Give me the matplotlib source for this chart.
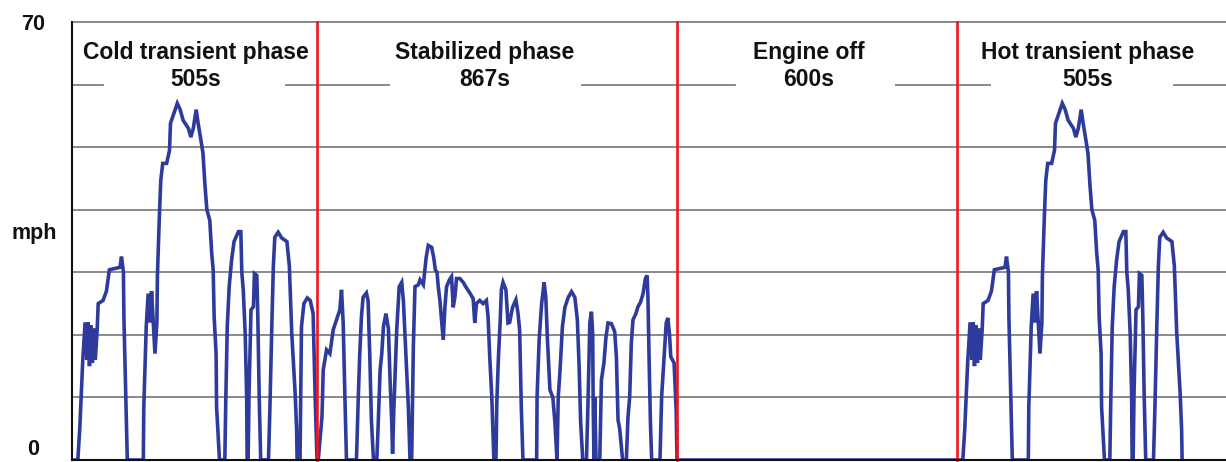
import numpy as np
import matplotlib
matplotlib.use("Agg")
import matplotlib.pyplot as plt

# ---------------- data ----------------
phase_names = ["Cold transient phase", "Stabilized phase", "Engine off", "Hot transient phase"]
phase_durations = [505, 867, 600, 505]          # seconds
phase_duration_labels = ["505s", "867s", "600s", "505s"]

# Cold transient phase speed trace (time s, speed mph)
cold_t = [0, 12, 16, 22, 27, 31, 33, 36, 39, 42, 45, 48, 52, 54, 64, 71, 77, 99, 102, 106,
          107, 111, 114, 147, 148, 153, 157, 161, 164, 171, 175, 176, 180, 183, 187, 195, 201, 203, 210, 217,
          223, 229, 240, 245, 250, 256, 260, 266, 270, 274, 278, 284, 288, 291, 293, 297, 298, 304, 315, 317,
          320, 324, 329, 334, 343, 348, 350, 353, 357, 360, 361, 363, 365, 369, 374, 376, 381, 383, 386, 389,
          405, 408, 412, 415, 418, 425, 432, 443, 448, 453, 460, 463, 464, 470, 473, 478, 485, 491, 497, 501,
          505]
cold_v = [0, 0, 5, 15.6, 22, 16, 22, 15, 21.5, 15.5, 21, 16, 21, 25, 25.5, 27, 30.4, 30.8, 32.5, 30,
          22.8, 9.6, 0, 0, 8.5, 21.3, 26.6, 22, 27, 17, 22, 29.3, 38.8, 44.7, 47.4, 47.4, 49.5, 53.8, 55.4, 57,
          56, 54.3, 53, 51.6, 53, 56, 53.8, 51, 49, 44, 40, 38.3, 33, 30.4, 22.9, 17, 8.5, 0, 0, 9.6,
          21.3, 27.7, 32, 34.9, 36.5, 36.5, 30, 27.2, 20.2, 10.1, 0, 0, 11, 24, 24.5, 29.8, 29.5, 22.9, 9.6, 0,
          0, 8.5, 21.9, 30.9, 35.6, 36.4, 35.5, 34.9, 31, 20.2, 10.6, 4.8, 0, 0, 21.3, 25, 25.9, 25.5, 23.4, 10.6,
          0]

# Stabilized phase speed trace (time s, speed mph)
stab_t = [505, 508, 517, 520, 528, 536, 544, 552, 560, 564,
          568, 572, 576, 600, 604, 608, 612, 616, 624, 628,
          632, 636, 641, 649, 652, 657, 661, 665, 671, 677,
          681, 685, 687, 690, 697, 703, 709, 713, 719, 725,
          729, 733, 737, 741, 749, 753, 761, 768, 773, 781,
          786, 790, 794, 797, 801, 805, 809, 813, 817, 824,
          829, 833, 837, 841, 849, 857, 865, 873, 881, 885,
          889, 897, 905, 913, 917, 921, 926, 931, 936, 938,
          942, 946, 949, 953, 960, 965, 969, 976, 984, 989,
          993, 997, 1001, 1034, 1035, 1040, 1046, 1052, 1056, 1060,
          1066, 1073, 1078, 1083, 1086, 1090, 1096, 1102, 1110, 1118,
          1126, 1132, 1136, 1140, 1145, 1154, 1158, 1162, 1166, 1169,
          1170, 1172, 1174, 1177, 1186, 1190, 1196, 1201, 1206, 1214,
          1222, 1226, 1230, 1234, 1241, 1250, 1254, 1258, 1262, 1266,
          1273, 1278, 1284, 1290, 1296, 1300, 1302, 1305, 1308, 1311,
          1331, 1335, 1341, 1346, 1350, 1354, 1357, 1365, 1370, 1372]
stab_v = [0, 0, 6.9, 14.4, 17.6, 17, 20.8, 22.4, 24, 27.2,
          22, 10.6, 0, 0, 9.1, 17, 22.9, 26, 26.7, 25.5,
          17, 6.4, 0, 0, 5, 14.4, 17, 21.3, 23.4, 21,
          12.8, 6, 1, 8, 20.8, 27.7, 28.4, 25.5, 17, 8.5,
          0, 0, 18, 27.7, 28, 28.8, 28, 32.4, 34.3, 34,
          32.4, 30.4, 30, 27.7, 25.5, 22.4, 19.2, 24.4, 27.7, 28.8,
          29.3, 24.4, 26, 29, 29, 28.4, 27.5, 26.7, 25.8, 21.9,
          25, 25.5, 25, 25.5, 22.9, 16.5, 10, 0, 0, 9.1,
          16.5, 21.9, 27.2, 28.4, 27.2, 21.9, 22, 24.4, 25.6, 23.5,
          20.8, 8.5, 0, 0, 10.1, 19.2, 25, 28.4, 26, 19.2,
          11.2, 10, 6, 0, 10.1, 14, 21.3, 24.4, 26, 26.9,
          26, 22.4, 15.5, 6, 0, 0, 10.1, 21.9, 23.7, 20,
          10, 0, 10, 0, 0, 12.8, 15.5, 19.7, 21.9, 21.8,
          20.5, 16.5, 6.4, 5, 0, 0, 6.9, 10, 18.7, 22.4,
          23.4, 24.5, 25.2, 26.5, 29, 29.5, 26, 15.5, 6, 0,
          0, 10.1, 16.5, 21.9, 22.7, 20, 16.5, 15.5, 8, 0]

hot_end = 464          # hot phase trace (repeat of cold phase) ends here in the picture
y_ticks = [0, 70]
y_tick_labels = ["0", "70"]
y_label = "mph"
grid_levels = [10, 20, 30, 40, 50, 60, 70]

# ---------------- layout ----------------
W, H = 1226, 462
AX_L, AX_R, AX_T, AX_B = 72, 1226, 22, 460           # pixel frame of the plot
phase_px = [245, 360, 280, 245]                       # drawn width of each phase (schematic)
label_px = [196, 485, 809, 1088]                      # label centres
gap_px = [(103, 286), (389, 582), (735, 896), (990, 1174)]  # white gaps in the 60 line

BLUE = "#2e3b9c"
RED = "#f2141c"
GRID = "#8a8a8a"
FONT = ["Liberation Sans", "DejaVu Sans"]

bounds = np.concatenate([[0], np.cumsum(phase_durations)]).astype(float)
knots_p = np.concatenate([[0], np.cumsum(phase_px)]).astype(float)
rate = phase_px[-1] / phase_durations[-1]
knots_t = np.append(bounds, bounds[-1] + 10000)
knots_p = np.append(knots_p, knots_p[-1] + 10000 * rate)
knots_t = np.insert(knots_t, 0, -10000)
knots_p = np.insert(knots_p, 0, -10000 * phase_px[0] / phase_durations[0])


def fwd(t):
    return np.interp(t, knots_t, knots_p)


def inv(p):
    return np.interp(p, knots_p, knots_t)


# series assembly
cold_t_a = np.array(cold_t, float)
cold_v_a = np.array(cold_v, float)
mask = cold_t_a <= hot_end
hot_t_a = cold_t_a[mask] + bounds[3]
hot_v_a = cold_v_a[mask]

t_all = np.concatenate([cold_t_a, np.array(stab_t, float), [bounds[3]], hot_t_a])
v_all = np.concatenate([cold_v_a, np.array(stab_v, float), [0.0], hot_v_a])

fig = plt.figure(figsize=(W / 100, H / 100), dpi=100)
ax = fig.add_axes([AX_L / W, 1 - AX_B / H, (AX_R - AX_L) / W, (AX_B - AX_T) / H])
ax.set_xscale("function", functions=(fwd, inv))
x_max = inv(AX_R - AX_L)
ax.set_xlim(0, x_max)
ax.set_ylim(0, 70)


def px_to_axfrac(px):
    return (px - AX_L) / (AX_R - AX_L)


# grid lines
for g in grid_levels:
    if g == 60:
        edges = [AX_L] + [v for pair in gap_px for v in pair] + [AX_R]
        for a, b in zip(edges[0::2], edges[1::2]):
            ax.axhline(g, xmin=px_to_axfrac(a), xmax=px_to_axfrac(b), color=GRID, lw=1.4, zorder=1)
    else:
        ax.axhline(g, color=GRID, lw=1.4, zorder=1, clip_on=False)

# speed trace
ax.plot(t_all, v_all, color=BLUE, lw=2.6, zorder=3, solid_joinstyle="miter")

# phase boundaries
for b in bounds[1:4]:
    ax.axvline(b, color=RED, lw=1.9, zorder=4, clip_on=False)

# phase labels
for name, dur, cx in zip(phase_names, phase_duration_labels, label_px):
    ax.text(px_to_axfrac(cx), (AX_B - 66) / (AX_B - AX_T), f"{name}\n{dur}",
            transform=ax.transAxes, ha="center", va="center", fontsize=16.5,
            fontweight="bold", family=FONT, color="#111111", linespacing=1.2, zorder=5)

# axes styling
for s in ["top", "right"]:
    ax.spines[s].set_visible(False)
for s in ["left", "bottom"]:
    ax.spines[s].set_color("#111111")
    ax.spines[s].set_linewidth(1.5)
    ax.spines[s].set_zorder(6)
ax.set_xticks([])
ax.xaxis.set_minor_locator(matplotlib.ticker.NullLocator())
ax.set_yticks(y_ticks)
ax.set_yticklabels(y_tick_labels, fontsize=15.5, fontweight="bold", family=FONT, color="#111111")
ax.tick_params(axis="y", length=0, pad=28)
for lab in ax.get_yticklabels():
    lab.set_horizontalalignment("center")
    if lab.get_text() == "0":
        lab.set_verticalalignment("bottom")
ax.set_ylabel(y_label, rotation=0, fontsize=15.5, fontweight="bold", family=FONT,
              color="#111111", ha="center", va="center")
ax.yaxis.set_label_coords(px_to_axfrac(34), (AX_B - 233) / (AX_B - AX_T))

fig.savefig("out.png", dpi=100, facecolor="white")
